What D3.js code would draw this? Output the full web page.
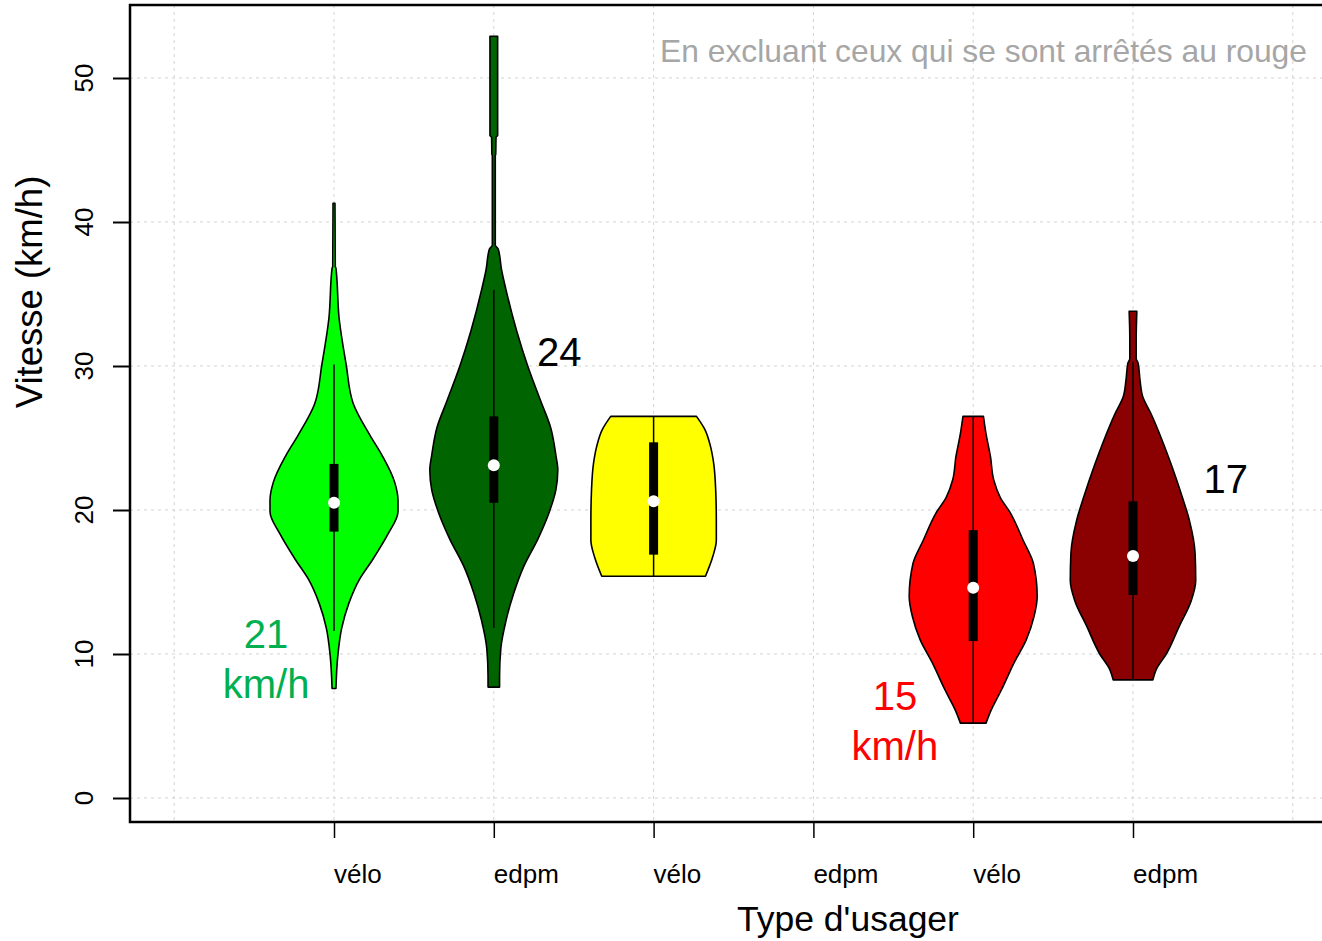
<!DOCTYPE html>
<html><head><meta charset="utf-8">
<script src="https://cdn.jsdelivr.net/npm/d3@7"></script>
<style>body{margin:0;background:#fff}svg{display:block}text{font-family:"Liberation Sans",Arial,sans-serif}</style>
</head><body><svg id="c" width="1322" height="941"></svg>
<script>
// ---------- data ----------
const categories = ["vélo", "edpm", "vélo", "edpm", "vélo", "edpm"];
const yTicks = [0, 10, 20, 30, 40, 50];
// violin density profiles: [speed km/h, relative width %]
const densVelo1 = [[41.3,1.5],[36.9,2],[36.8,3],[33.3,8],[30.1,19],[27.4,30],[25.2,56],[23.8,75],[21.9,95],[20.7,100],[19.9,100],[18.3,84],[16.6,61],[15.2,40],[13.5,23],[11.8,12],[9.9,6],[7.6,3]];
const densEdpm1 = [[52.9,6],[46.0,6],[45.9,3.5],[44.7,3],[44.6,2.3],[38.4,2.3],[38.1,7],[36.7,12],[35.3,19],[32.4,36],[30.0,53],[27.6,73],[25.7,89],[23.8,97],[22.8,100],[21.4,97],[19.9,87],[18.0,69],[16.1,47],[14.2,31],[12.3,19],[10.4,11],[8.4,9],[7.7,9]];
const densVelo2 = [[26.5,67],[25.6,80],[24.4,89],[23.2,94],[21.4,97],[19.3,98],[17.9,98],[16.7,92],[15.4,81]];
const densEdpm2 = [];
const densVelo3 = [[26.5,16],[25.3,20],[23.7,27],[22.1,32],[20.9,42],[19.8,58],[17.9,78],[16.3,94],[14.0,100],[12.6,95],[11.0,83],[9.4,64],[7.5,44],[6.1,28],[5.2,20]];
const densEdpm3 = [[33.8,6],[31.9,5],[30.5,5],[30.2,8],[29.0,11],[27.9,15],[26.7,28],[24.9,45],[23.0,61],[20.9,77],[19.3,88],[17.0,97],[15.1,98],[13.7,91],[11.9,72],[10.0,52],[8.9,36],[8.2,31]];
const densities = [densVelo1, densEdpm1, densVelo2, densEdpm2, densVelo3, densEdpm3];
// box statistics
const whiskerLow  = [11.6, 11.8, 15.4, null, 5.2, 8.2];
const q1          = [18.5, 20.5, 16.9, null, 10.9, 14.1];
const medians     = [20.5, 23.1, 20.6, null, 14.6, 16.8];
const q3          = [23.2, 26.5, 24.7, null, 18.6, 20.6];
const whiskerHigh = [30.1, 35.3, 26.5, null, 26.5, 30.3];
// annotations: [x position, speed, text lines]
const annotX = [0.575, 2.41, 4.51, 6.58];
const annotY = [10.4, 30.0, 6.1, 21.2];
const annotText = [["21","km/h"],["24"],["15","km/h"],["17"]];
const noteText = "En excluant ceux qui se sont arrêtés au rouge";

// ---------- style ----------
const fillColors = ["#00FF00", "#006400", "#FFFF00", "#FFFFFF", "#FF0000", "#8B0000"];
const annotColors = ["#00B050", "#000000", "#FF0000", "#000000"];

const svg = d3.select("#c");
const x = d3.scaleLinear().domain([1, 6]).range([334, 1133]);
const y = d3.scaleLinear().domain([0, 50]).range([798, 78]);
const w = d3.scaleLinear().domain([0, 100]).range([0, 64]);
const L = 130, T = 5, B = 822, R = 1322;

// grid
const gridPos = d3.range(0, 8);
svg.append("g").selectAll("line").data(gridPos).join("line")
  .attr("x1", d => x(d)).attr("x2", d => x(d)).attr("y1", T).attr("y2", B)
  .attr("stroke", "#D3D3D3").attr("stroke-width", 1).attr("stroke-dasharray", "3,4");
svg.append("g").selectAll("line").data(yTicks).join("line")
  .attr("x1", L).attr("x2", R).attr("y1", d => y(d)).attr("y2", d => y(d))
  .attr("stroke", "#D3D3D3").attr("stroke-width", 1).attr("stroke-dasharray", "3,4");

// violins
const area = d3.area()
  .y(d => y(d[0]))
  .curve(d3.curveMonotoneY);
densities.forEach((dens, i) => {
  if (!dens.length) return;
  const cx = x(i + 1);
  svg.append("path").datum(dens)
    .attr("d", area.x0(d => cx - w(d[1])).x1(d => cx + w(d[1])))
    .attr("fill", fillColors[i]).attr("stroke", "#000").attr("stroke-width", 1.6)
    .attr("stroke-linejoin", "round");
  svg.append("line").attr("x1", cx).attr("x2", cx)
    .attr("y1", y(whiskerLow[i])).attr("y2", y(whiskerHigh[i]))
    .attr("stroke", "#000").attr("stroke-width", 1.5);
  svg.append("rect").attr("x", cx - 4.5).attr("width", 9)
    .attr("y", y(q3[i])).attr("height", y(q1[i]) - y(q3[i])).attr("fill", "#000");
  svg.append("circle").attr("cx", cx).attr("cy", y(medians[i])).attr("r", 6).attr("fill", "#fff");
});

// frame
svg.append("rect").attr("x", L).attr("y", T).attr("width", R + 20 - L).attr("height", B - T)
  .attr("fill", "none").attr("stroke", "#000").attr("stroke-width", 2.5);

// y axis
const yAxis = svg.append("g").attr("transform", `translate(${L},0)`)
  .call(d3.axisLeft(y).tickValues(yTicks).tickSize(17).tickSizeOuter(0).tickFormat(""));
yAxis.select(".domain").remove();
yAxis.selectAll(".tick line").attr("stroke", "#000").attr("stroke-width", 2);
svg.append("g").selectAll("text").data(yTicks).join("text")
  .attr("transform", d => `translate(93,${y(d)}) rotate(-90)`)
  .attr("text-anchor", "middle").attr("font-size", 26).attr("fill", "#000")
  .text(d => d);

// x axis
const xAxis = svg.append("g").attr("transform", `translate(0,${B})`)
  .call(d3.axisBottom(x).tickValues(d3.range(1, 7)).tickSize(16).tickSizeOuter(0).tickFormat(""));
xAxis.select(".domain").remove();
xAxis.selectAll(".tick line").attr("stroke", "#000").attr("stroke-width", 1.5);
svg.append("g").selectAll("text").data(categories).join("text")
  .attr("x", (d, i) => x(i + 1)).attr("y", 883)
  .attr("text-anchor", "start").attr("font-size", 26).attr("fill", "#000")
  .text(d => d);

// axis titles
svg.append("text").attr("x", 848).attr("y", 931).attr("text-anchor", "middle")
  .attr("font-size", 35.5).text("Type d'usager");
svg.append("text").attr("transform", `translate(42,${292}) rotate(-90)`).attr("text-anchor", "middle")
  .attr("font-size", 36.5).text("Vitesse (km/h)");

// note
svg.append("text").attr("x", 1307).attr("y", 62).attr("text-anchor", "end")
  .attr("font-size", 31.8).attr("fill", "#A6A6A6").text(noteText);

// annotations
annotText.forEach((lines, i) => {
  const t = svg.append("text").attr("text-anchor", "middle").attr("font-size", 40)
    .attr("fill", annotColors[i]);
  lines.forEach((s, k) => {
    t.append("tspan").attr("x", x(annotX[i])).attr("y", y(annotY[i]) + k * 50).text(s);
  });
});
</script></body></html>
